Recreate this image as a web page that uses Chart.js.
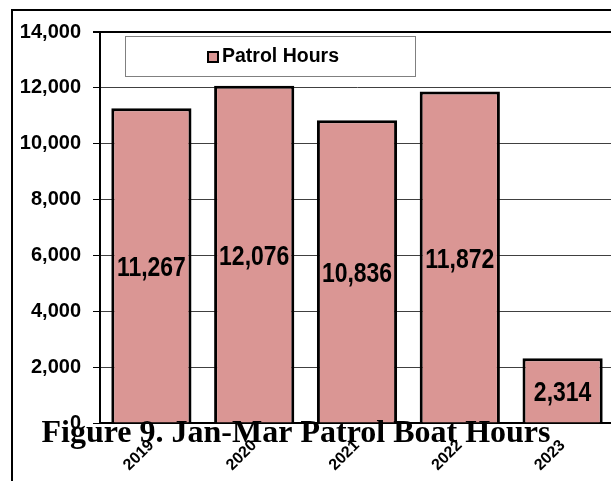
<!DOCTYPE html>
<html>
<head>
<meta charset="utf-8">
<script src="https://cdn.jsdelivr.net/npm/chart.js@4.4.1/dist/chart.umd.min.js"></script>
<style>
    html, body { margin: 0; padding: 0; background: #fff; overflow: hidden; width: 611px; height: 481px; }
    #patrolChart { position: absolute; left: 0; top: 0; }
</style>
</head>
<body>
<canvas id="patrolChart" width="620" height="481"></canvas>
<script>
const categories = ['2019', '2020', '2021', '2022', '2023'];
const patrolHours = [11267, 12076, 10836, 11872, 2314];
const seriesLabel = 'Patrol Hours';
const chartTitle = 'Figure 9. Jan-Mar Patrol Boat Hours';
const yMin = 0, yMax = 14000, yStep = 2000;

const barColor = '#DA9694';

// value labels, legend box, title and outer frame
const extras = {
    id: 'extras',
    afterDatasetsDraw(chart) {
        const ctx = chart.ctx;
        const meta = chart.getDatasetMeta(0);
        ctx.save();
        ctx.fillStyle = '#000';
        ctx.textAlign = 'center';
        ctx.textBaseline = 'middle';
        ctx.font = 'bold 28px "Liberation Sans", Arial, sans-serif';
        meta.data.forEach((bar, i) => {
            const cy = (bar.y + bar.base) / 2;
            ctx.save();
            ctx.translate(bar.x, cy + 3);
            ctx.scale(0.82, 1);
            ctx.fillText(patrolHours[i].toLocaleString('en-US'), 0, 0);
            ctx.restore();
        });
        ctx.restore();
    },
    afterDraw(chart) {
        const ctx = chart.ctx;
        ctx.save();
        // legend
        ctx.fillStyle = '#fff';
        ctx.fillRect(125.5, 36.5, 290, 40);
        ctx.strokeStyle = '#808080';
        ctx.lineWidth = 1;
        ctx.strokeRect(125.5, 36.5, 290, 40);
        ctx.fillStyle = barColor;
        ctx.fillRect(208, 52, 10, 10);
        ctx.strokeStyle = '#000';
        ctx.lineWidth = 2;
        ctx.strokeRect(208, 52, 10, 10);
        ctx.fillStyle = '#000';
        ctx.font = 'bold 19.5px "Liberation Sans", Arial, sans-serif';
        ctx.textAlign = 'left';
        ctx.textBaseline = 'alphabetic';
        ctx.fillText(seriesLabel, 222, 62);

        // outer frame
        ctx.strokeStyle = '#000';
        ctx.lineWidth = 2;
        ctx.beginPath();
        ctx.moveTo(12, 481);
        ctx.lineTo(12, 10);
        ctx.lineTo(620, 10);
        ctx.stroke();

        // title
        ctx.font = 'bold 32px "Liberation Serif", "Times New Roman", serif';
        ctx.fillText(chartTitle, 41.5, 442);
        ctx.restore();
    }
};

const ctx = document.getElementById('patrolChart').getContext('2d');
const patrolChart = new Chart(ctx, {
    type: 'bar',
    data: {
        labels: categories,
        datasets: [{
            label: seriesLabel,
            data: patrolHours,
            backgroundColor: barColor,
            borderColor: '#000',
            borderWidth: 3,
            barPercentage: 0.78,
            categoryPercentage: 1.0
        }]
    },
    options: {
        responsive: false,
        devicePixelRatio: 1,
        animation: false,
        layout: { padding: { left: 0, top: 32, right: 6, bottom: 0 } },
        plugins: {
            legend: { display: false },
            title: { display: false },
            tooltip: { enabled: false }
        },
        scales: {
            x: {
                grid: { display: false },
                border: { color: '#000', width: 2 },
                ticks: {
                    color: '#000',
                    maxRotation: 45,
                    minRotation: 45,
                    padding: 5,
                    font: { family: '"Liberation Sans", Arial, sans-serif', size: 16, weight: 'bold' }
                },
                afterFit(scale) { scale.height = 58; }
            },
            y: {
                min: yMin,
                max: yMax,
                ticks: {
                    stepSize: yStep,
                    color: '#000',
                    padding: 12,
                    font: { family: '"Liberation Sans", Arial, sans-serif', size: 20, weight: 'bold' },
                    callback: v => v.toLocaleString('en-US')
                },
                grid: {
                    color: c => c.tick && c.tick.value === yMax ? '#000' : '#404040',
                    lineWidth: c => c.tick && c.tick.value === yMax ? 2 : 1,
                    tickColor: '#000',
                    tickLength: 7
                },
                border: { color: '#000', width: 2 },
                afterFit(scale) { scale.width = 100; }
            }
        }
    },
    plugins: [extras]
});
</script>
</body>
</html>
